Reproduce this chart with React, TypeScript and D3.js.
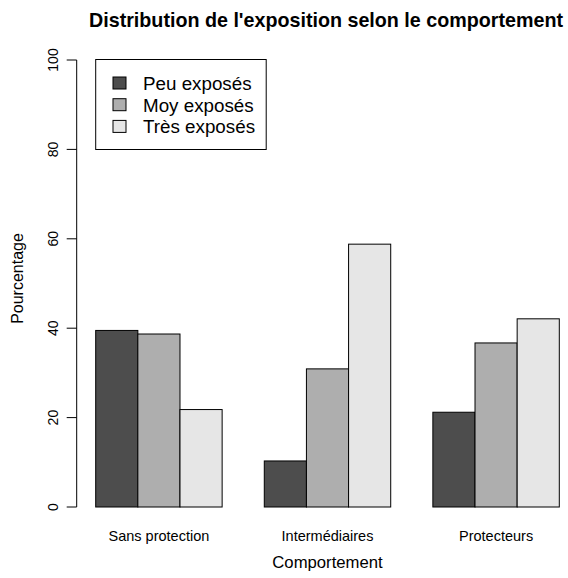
import React from "react";
import * as d3 from "d3";

const categories = ["Sans protection", "Intermédiaires", "Protecteurs"];
const series = ["Peu exposés", "Moy exposés", "Très exposés"];
const peuValues = [39.5, 10.3, 21.2];
const moyValues = [38.7, 30.9, 36.7];
const tresValues = [21.8, 58.8, 42.1];
const seriesValues = [peuValues, moyValues, tresValues];
const colors = ["#4D4D4D", "#AEAEAE", "#E6E6E6"];
const yTicks = [0, 20, 40, 60, 80, 100];

const W = 568;
const H = 578;
const FONT = "'Liberation Sans', Arial, Helvetica, sans-serif";

export default function App() {
  // bar units in R barplot style: group g, series s -> left edge = 1 + 4g + s
  const x = d3.scaleLinear().domain([1, 12]).range([95.7, 559.3]);
  const y = d3.scaleLinear().domain([0, 100]).range([507, 60]);
  const axisX = 76.7;

  const bars: { key: string; x0: number; x1: number; v: number; c: string }[] = [];
  categories.forEach((cat, g) => {
    series.forEach((s, si) => {
      const left = 1 + 4 * g + si;
      bars.push({ key: cat + s, x0: x(left), x1: x(left + 1), v: seriesValues[si][g], c: colors[si] });
    });
  });

  return (
    <div style={{ position: "fixed", left: 0, top: 0 }}>
      <svg width={W} height={H} style={{ display: "block", background: "#fff" }} fontFamily={FONT}>
        <rect x={0} y={0} width={W} height={H} fill="#fff" />
        <text x={326} y={27} textAnchor="middle" fontSize={19.7} fontWeight="bold" fill="#000">
          Distribution de l'exposition selon le comportement
        </text>
        {bars.map((b) => (
          <rect
            key={b.key}
            x={b.x0}
            y={y(b.v)}
            width={b.x1 - b.x0}
            height={y(0) - y(b.v)}
            fill={b.c}
            stroke="#000"
            strokeWidth={1}
          />
        ))}
        {/* y axis */}
        <line x1={axisX} x2={axisX} y1={y(0)} y2={y(100)} stroke="#000" strokeWidth={1} />
        {yTicks.map((t) => (
          <g key={t}>
            <line x1={axisX - 10} x2={axisX} y1={y(t)} y2={y(t)} stroke="#000" strokeWidth={1} />
            <text
              transform={`translate(58,${y(t)}) rotate(-90)`}
              textAnchor="middle"
              fontSize={14}
              fill="#000"
            >
              {t}
            </text>
          </g>
        ))}
        <text transform={`translate(22.5,${(y(0) + y(100)) / 2 - 5}) rotate(-90)`} textAnchor="middle" fontSize={16} fill="#000">
          Pourcentage
        </text>
        {/* category labels */}
        {categories.map((cat, g) => (
          <text key={cat} x={x(1 + 4 * g + 1.5)} y={541} textAnchor="middle" fontSize={14.5} fill="#000">
            {cat}
          </text>
        ))}
        <text x={x(6.5)} y={568} textAnchor="middle" fontSize={16.7} fill="#000">
          Comportement
        </text>
        {/* legend */}
        <rect x={95.7} y={59.5} width={170.5} height={90} fill="#fff" stroke="#000" strokeWidth={1} />
        {series.map((s, i) => (
          <g key={s}>
            <rect x={113} y={77 + i * 21.7} width={13} height={12} fill={colors[i]} stroke="#000" strokeWidth={1} />
            <text x={143} y={90 + i * 21.7} fontSize={18.8} fill="#000">
              {s}
            </text>
          </g>
        ))}
      </svg>
    </div>
  );
}
